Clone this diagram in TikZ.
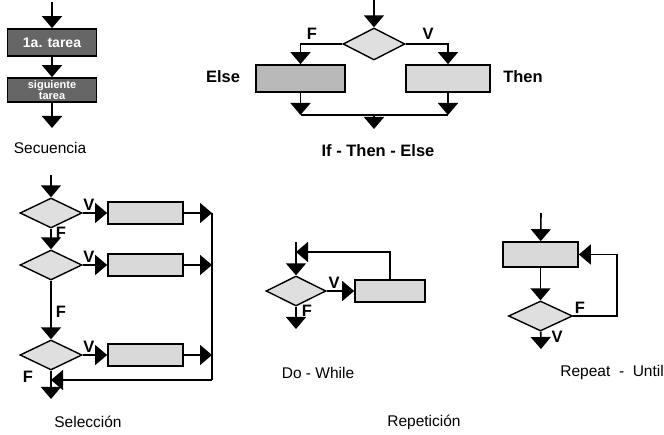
\documentclass[tikz,border=0pt]{standalone}
\usepackage{fontspec}
\setmainfont{Liberation Sans}
\usetikzlibrary{shapes.geometric,arrows.meta}
\begin{document}
\begin{tikzpicture}[x=1pt,y=-1pt,
  every node/.style={font=\fontsize{15.5}{17}\selectfont},
  caja/.style={draw,line width=1.7pt,fill=gray!30,minimum width=75pt,minimum height=22pt,inner sep=0pt},
  cajaosc/.style={caja,fill=gray!80!black,text=white,font=\fontsize{14}{14}\selectfont\bfseries},
  rombo/.style={draw,diamond,line width=1.4pt,fill=gray!25,minimum width=62pt,minimum height=30pt,inner sep=0pt},
  flecha/.style={line width=1.6pt,-{Triangle[width=20pt,length=12pt]}},
  linea/.style={line width=1.6pt},
  etiq/.style={font=\fontsize{16.5}{18}\selectfont\bfseries}]
\useasboundingbox (0,0) rectangle (664,435);

\coordinate (s0) at (52,2);
\node[cajaosc,minimum width=89pt,minimum height=27pt] (s1) at (52,42.5) {1a. tarea};
\node[cajaosc,minimum width=89pt,minimum height=24pt,align=center,font=\fontsize{11}{10.5}\selectfont\bfseries] (s2) at (52,90) {siguiente\\tarea};
\coordinate (s3) at (52,128);
\draw[flecha] (s0) -- (s1);
\draw[flecha] (s1) -- (s2);
\draw[flecha] (s2) -- (s3);
\node (secuencia) at (50,148) {Secuencia};

\coordinate (i0) at (374,0);
\node[rombo,minimum height=32pt] (if) at (374,44) {};
\node[caja,fill=gray!55,minimum width=89pt,minimum height=27pt] (else) at (300.5,78.5) {};
\node[caja,minimum width=84pt,minimum height=27pt] (then) at (448,78.5) {};
\coordinate (jf) at (300.5,115);
\coordinate (jv) at (448,115);
\coordinate (jm) at (374,115);
\coordinate (i1) at (374,129);
\draw[flecha] (i0) -- (if);
\draw[flecha] (if.west) -| (else.north);
\draw[flecha] (if.east) -| (then.north);
\draw[flecha] (else) -- (jf);
\draw[flecha] (then) -- (jv);
\draw[linea] (jf) -- (jv);
\draw[flecha] (jm) -- (i1);
\node[etiq] (fif) at (312,34) {F};
\node[etiq] (vif) at (428,34) {V};
\node[etiq] (lelse) at (223,77) {Else};
\node[etiq] (lthen) at (523,77) {Then};
\node[etiq] (ite) at (378,151) {If - Then - Else};

\coordinate (c0) at (51,175);
\node[rombo] (d1) at (51,213) {};
\node[rombo] (d2) at (51,265) {};
\node[rombo] (d3) at (51,355) {};
\node[caja] (b1) at (145.5,213) {};
\node[caja] (b2) at (145.5,265) {};
\node[caja] (b3) at (145.5,355) {};
\coordinate (r1) at (212,213);
\coordinate (r2) at (212,265);
\coordinate (r3) at (212,355);
\coordinate (r4) at (212,380);
\coordinate (r0) at (51,380);
\coordinate (c1) at (51,399);
\draw[flecha] (c0) -- (d1);
\draw[flecha] (d1) -- (d2);
\draw[flecha] (d2) -- (d3);
\draw[flecha] (d1) -- (b1);
\draw[flecha] (d2) -- (b2);
\draw[flecha] (d3) -- (b3);
\draw[flecha] (b1) -- (r1);
\draw[flecha] (b2) -- (r2);
\draw[flecha] (b3) -- (r3);
\draw[linea] (r1) -- (r4);
\draw[flecha] (r4) -- (r0);
\draw[flecha] (d3) -- (c1);
\node[etiq] (v1) at (89,205) {V};
\node[etiq] (v2) at (89,257) {V};
\node[etiq] (v3) at (89,347) {V};
\node[etiq] (f1) at (61,233) {F};
\node[etiq] (f2) at (61,312) {F};
\node[etiq] (f3) at (28,377) {F};
\node (seleccion) at (88,422) {Selección};

\coordinate (w0) at (296,242);
\coordinate (wl) at (296,252);
\coordinate (w1) at (296,329);
\node[rombo,minimum width=60pt] (dw) at (296,291) {};
\node[caja,minimum width=70pt] (bw) at (390,291) {};
\draw[flecha] (w0) -- (dw);
\draw[flecha] (dw) -- (bw);
\draw[flecha] (bw.north) |- (wl);
\draw[flecha] (dw) -- (w1);
\node[etiq] (vw) at (334,283) {V};
\node[etiq] (fw) at (307,311) {F};
\node (dowhile) at (318,373) {Do - While};

\coordinate (u0) at (541,213);
\coordinate (ul) at (617,254.5);
\coordinate (u1) at (541,349);
\node[caja,minimum height=25pt] (bu) at (540.5,254.5) {};
\node[rombo,minimum width=64pt] (du) at (540.5,316) {};
\draw[flecha] (u0) -- (bu);
\draw[flecha] (bu) -- (du);
\draw[flecha] (du.east) -| (ul) -- (bu.east);
\draw[flecha] (du) -- (u1);
\node[etiq] (fu) at (580,308) {F};
\node[etiq] (vu) at (557,337) {V};
\node[anchor=east,inner sep=0pt] (repeat) at (664,372) {Repeat \ - \ Until};
\node (repeticion) at (424,422) {Repetición};
\end{tikzpicture}
\end{document}
